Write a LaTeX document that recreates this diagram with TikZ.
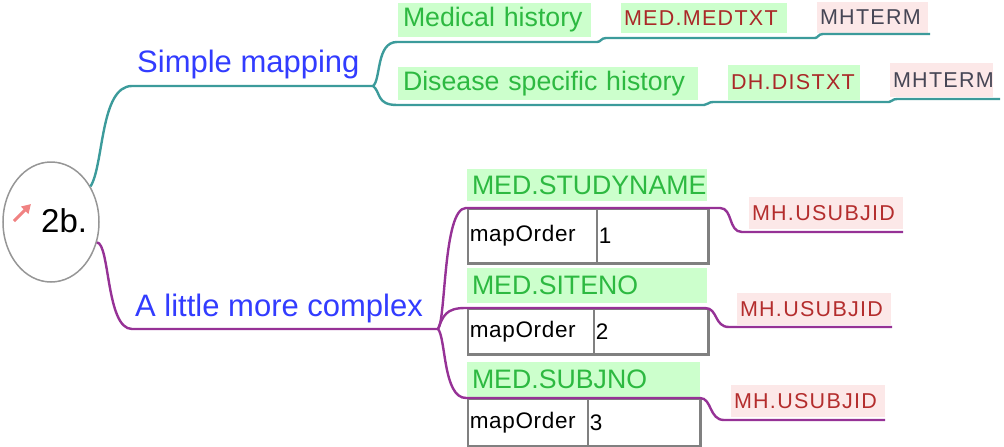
\documentclass[tikz,border=0pt]{standalone}
\usepackage{fontspec}
\setmainfont{Liberation Sans}
\newfontfamily\spc[LetterSpace=6]{Liberation Sans}
\newfontfamily\spcb[LetterSpace=3]{Liberation Sans}
\usetikzlibrary{arrows.meta,shapes.geometric}
\definecolor{tealc}{RGB}{60,155,155}
\definecolor{purpc}{RGB}{150,50,150}
\definecolor{gtext}{RGB}{45,185,65}
\definecolor{gbg}{RGB}{204,255,204}
\definecolor{pbg}{RGB}{252,232,232}
\definecolor{dred}{RGB}{170,40,40}
\definecolor{ured}{RGB}{180,45,45}
\definecolor{termc}{RGB}{70,70,85}
\definecolor{bluec}{RGB}{50,60,255}
\definecolor{cgray}{RGB}{128,128,128}
\definecolor{egray}{RGB}{150,150,150}
\definecolor{iconpink}{RGB}{240,130,130}
\tikzset{
  greenlab/.style={fill=gbg, text=gtext, font=\fontsize{26.7}{28}\selectfont, inner xsep=5pt, inner ysep=0pt, align=left},
  codelab/.style={fill=gbg, text=dred, font=\spc\fontsize{21.5}{23}\selectfont, inner xsep=3pt, inner ysep=0pt, align=left},
  termlab/.style={fill=pbg, text=termc, font=\spc\fontsize{21.5}{23}\selectfont, inner xsep=3pt, inner ysep=0pt, align=left},
  usubj/.style={fill=pbg, text=ured, font=\spc\fontsize{21.5}{23}\selectfont, inner xsep=3pt, inner ysep=0pt, align=left, minimum height=32pt, text width=148pt},
  bluelab/.style={text=bluec, font=\fontsize{31}{33}\selectfont, inner sep=0pt},
  cell/.style={draw=cgray, line width=1.5pt, inner xsep=2pt, inner ysep=0pt, align=left, font=\spcb\fontsize{22.5}{24}\selectfont, anchor=north west},
  shadowline/.style={draw=cgray, line width=3pt},
  tealline/.style={draw=tealc, line width=2.4pt},
  purpline/.style={draw=purpc, line width=2.4pt},
}
\begin{document}
\begin{tikzpicture}[x=1pt,y=-1pt]
\useasboundingbox (0,0) rectangle (1004,447);
% root
\node[ellipse, draw=egray, line width=1.5pt, minimum width=96pt, minimum height=120pt, inner sep=0pt] (root) at (51,222) {};
\node[font=\fontsize{33}{35}\selectfont, anchor=base west, inner sep=0pt] (rootlbl) at (41,232) {2b.};
\draw[draw=iconpink, line width=3pt, -{Triangle[length=9pt,width=10pt]}] (14,221) -- (31,204);
% labels
\node[bluelab, anchor=base west] (sm) at (137,72) {Simple mapping};
\node[bluelab, anchor=base west] (amc) at (135,316) {A little more complex};
% top branch
\node[greenlab, text width=183pt, minimum height=34pt] (mh) at (494.5,20) {Medical history};
\node[greenlab, text width=290pt, minimum height=33pt] (dsh) at (548,83.5) {Disease specific history};
\node[codelab, text width=160pt, minimum height=30pt] (medtxt) at (704,18) {MED.MEDTXT};
\node[termlab, text width=105pt, minimum height=31pt] (mht1) at (872.5,17.5) {MHTERM};
\node[codelab, text width=126pt, minimum height=35pt] (distxt) at (794,82.5) {DH.DISTXT};
\node[termlab, text width=97pt, minimum height=34pt] (mht2) at (941.5,80) {MHTERM};
% bottom branch
\node[greenlab, text width=230pt, minimum height=32pt] (studyname) at (587,185) {MED.STUDYNAME};
\node[greenlab, text width=230pt, minimum height=35pt] (siteno) at (587,285.5) {MED.SITENO};
\node[greenlab, text width=223pt, minimum height=35pt] (subjno) at (583.5,379.5) {MED.SUBJNO};
% tables
\node[cell, text width=125pt, minimum height=54pt] (t1a) at (467,208) {mapOrder};
\node[cell, text width=107pt, minimum height=54pt] (t1b) at (596,208) {1};
\draw[shadowline] (t1b.north east) -- (t1b.south east) -- (t1a.south west);
\node[cell, text width=122pt, minimum height=45pt] (t2a) at (467,308) {mapOrder};
\node[cell, text width=110pt, minimum height=45pt] (t2b) at (593,308) {2};
\draw[shadowline] (t2b.north east) -- (t2b.south east) -- (t2a.south west);
\node[cell, text width=116pt, minimum height=47pt] (t3a) at (467,398) {mapOrder};
\node[cell, text width=108pt, minimum height=47pt] (t3b) at (587,398) {3};
\draw[shadowline] (t3b.north east) -- (t3b.south east) -- (t3a.south west);
% pink targets
\node[usubj] (u1) at (826,213) {MH.USUBJID};
\node[usubj] (u2) at (814,309) {MH.USUBJID};
\node[usubj] (u3) at (808,401) {MH.USUBJID};
% coordinates
\coordinate (tf) at (373,86);
\coordinate (mhend) at (930,34);
\coordinate (dshend) at (1000,99);
\coordinate (pf) at (438,329);
\coordinate (u1end) at (903,232);
\coordinate (u2end) at (892,327);
\coordinate (u3end) at (885,420);
% teal connectors
\draw[tealline] (root.42) .. controls (104,165) and (100,86) .. (132,86) -- (tf);
\draw[tealline] (tf) .. controls (381,80) and (376,42) .. (397,42) -- (597,42) .. controls (601,42) and (601,38) .. (606,38) -- (815,38) .. controls (818,38) and (818,34) .. (823,34) -- (mhend);
\draw[tealline] (tf) .. controls (381,92) and (376,105) .. (397,105) -- (704,105) .. controls (708,105) and (708,102) .. (713,102) -- (889,102) .. controls (892,102) and (892,99) .. (897,99) -- (dshend);
% purple connectors
\draw[purpline] (root.-24) .. controls (110,243) and (106,329) .. (132,329) -- (pf);
\draw[purpline] (pf) .. controls (446,320) and (443,208) .. (466,208) -- (720,208) .. controls (733,208) and (728,232) .. (742,232) -- (u1end);
\draw[purpline] (pf) .. controls (443,316) and (446,308) .. (465,308) -- (705,308) .. controls (718,308) and (714,327) .. (729,327) -- (u2end);
\draw[purpline] (pf) .. controls (446,338) and (443,398) .. (466,398) -- (700,398) .. controls (712,398) and (709,420) .. (724,420) -- (u3end);
\end{tikzpicture}
\end{document}
